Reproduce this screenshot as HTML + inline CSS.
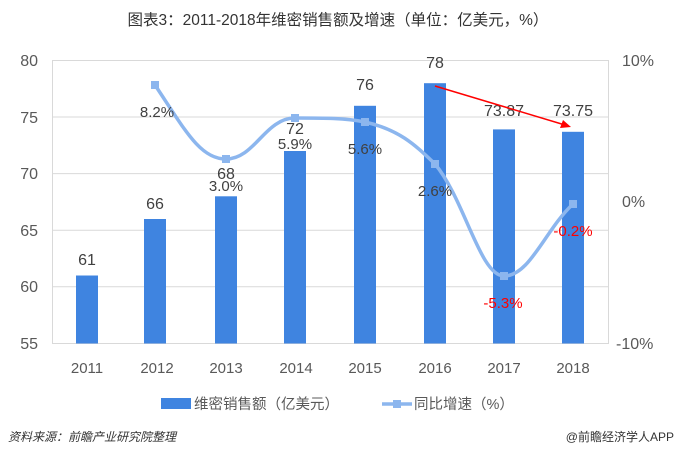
<!DOCTYPE html>
<html><head><meta charset="utf-8"><style>
body{margin:0;background:#fff;width:676px;height:454px;overflow:hidden}
text{font-family:"Liberation Sans","Noto Sans CJK SC",sans-serif}
</style></head><body>
<svg width="676" height="454" xmlns="http://www.w3.org/2000/svg">
<text x="338" y="25" font-size="15.5" fill="#333" text-anchor="middle">图表3：2011-2018年维密销售额及增速（单位：亿美元，%）</text>
<rect x="52.5" y="60.5" width="556" height="283" fill="none" stroke="#d9d9d9"/>
<g stroke="#d9d9d9"><line x1="52" y1="117" x2="608" y2="117"/><line x1="52" y1="173.6" x2="608" y2="173.6"/><line x1="52" y1="230.2" x2="608" y2="230.2"/><line x1="52" y1="286.8" x2="608" y2="286.8"/></g>
<g font-size="16" fill="#595959" text-anchor="end"><text x="38" y="66">80</text><text x="38" y="123">75</text><text x="38" y="179">70</text><text x="38" y="236">65</text><text x="38" y="292">60</text><text x="38" y="349">55</text></g>
<g font-size="16" fill="#595959"><text x="622" y="66">10%</text><text x="622" y="207">0%</text><text x="616" y="349">-10%</text></g>
<g fill="#3f84e0">
<rect x="76" y="275.5" width="22" height="68"/><rect x="144" y="219" width="22" height="124.5"/><rect x="215" y="196.3" width="22" height="147.2"/><rect x="284" y="151" width="22" height="192.5"/><rect x="354" y="105.8" width="22" height="237.7"/><rect x="424" y="83.2" width="22" height="260.3"/><rect x="493" y="129.4" width="22" height="214.1"/><rect x="562" y="131.8" width="22" height="211.7"/></g>
<g font-size="16" fill="#404040" text-anchor="middle"><text x="87" y="265">61</text><text x="155" y="209">66</text><text x="226" y="179">68</text><text x="295" y="134">72</text><text x="365" y="90">76</text><text x="435" y="68">78</text><text x="504" y="116">73.87</text><text x="573" y="116">73.75</text></g>
<path d="M155,85 C185,130 200,159 226,159 C255,159 265,118 295,118 C325,118 345,118 365,122 C400,130 415,145 435,164 C465,200 480,276 504,276 C530,276 545,230 573,204" fill="none" stroke="#8cb6ee" stroke-width="3.5"/>
<g fill="#8cb6ee"><rect x="151" y="81" width="8" height="8"/><rect x="222" y="155" width="8" height="8"/><rect x="291" y="114" width="8" height="8"/><rect x="361" y="118" width="8" height="8"/><rect x="431" y="160" width="8" height="8"/><rect x="500" y="272" width="8" height="8"/><rect x="569" y="200" width="8" height="8"/></g>
<g font-size="15" fill="#404040" text-anchor="middle"><text x="157" y="117">8.2%</text><text x="226" y="191">3.0%</text><text x="295" y="149">5.9%</text><text x="365" y="154">5.6%</text><text x="435" y="196">2.6%</text></g>
<g font-size="15" fill="#ff0000" text-anchor="middle"><text x="503" y="308">-5.3%</text><text x="573" y="236">-0.2%</text></g>
<line x1="435" y1="86" x2="565" y2="125" stroke="#ff0000" stroke-width="1.5"/>
<polygon points="571,127 560,128 563,120" fill="#ff0000"/>
<g font-size="15" fill="#595959" text-anchor="middle"><text x="87" y="373">2011</text><text x="157" y="373">2012</text><text x="226" y="373">2013</text><text x="296" y="373">2014</text><text x="365" y="373">2015</text><text x="435" y="373">2016</text><text x="504" y="373">2017</text><text x="573" y="373">2018</text></g>
<rect x="161" y="398" width="30" height="11" fill="#3f84e0"/>
<text x="194" y="409" font-size="14.5" fill="#595959">维密销售额（亿美元）</text>
<line x1="382" y1="404" x2="412" y2="404" stroke="#8cb6ee" stroke-width="3.5"/><rect x="393" y="400" width="8" height="8" fill="#8cb6ee"/>
<text x="414" y="409" font-size="14.5" fill="#595959">同比增速（%）</text>
<text x="8" y="441" font-size="12" fill="#333" font-style="italic">资料来源：前瞻产业研究院整理</text>
<text x="674" y="441" font-size="12" fill="#333" text-anchor="end">@前瞻经济学人APP</text>
</svg>
</body></html>
